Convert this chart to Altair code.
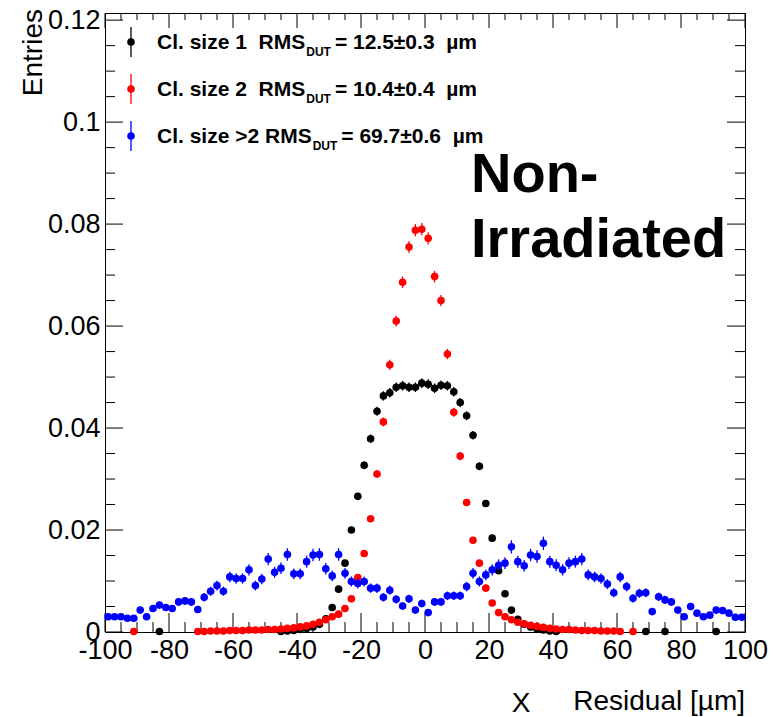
import altair as alt
import numpy as np
import pandas as pd

# ---------------- data ----------------
BIN_X = list(range(-99, 100, 2))  # 100 bins of 2 um

BLUE_Y = [
    0.0030, 0.0030, 0.0030, 0.0027, 0.0027, 0.0043, 0.0030, 0.0046, 0.0053, 0.0048,
    0.0046, 0.0059, 0.0061, 0.0059, 0.0044, 0.0068, 0.0080, 0.0091, 0.0080, 0.0108,
    0.0105, 0.0105, 0.0122, 0.0091, 0.0104, 0.0143, 0.0117, 0.0125, 0.0152, 0.0114,
    0.0114, 0.0138, 0.0151, 0.0152, 0.0124, 0.0110, 0.0152, 0.0115, 0.0099, 0.0095,
    0.0099, 0.0086, 0.0086, 0.0068, 0.0082, 0.0064, 0.0051, 0.0065, 0.0043, 0.0056,
    0.0038, 0.0059, 0.0059, 0.0071, 0.0071, 0.0071, 0.0089, 0.0115, 0.0099, 0.0112,
    0.0122, 0.0131, 0.0135, 0.0167, 0.0138, 0.0130, 0.0151, 0.0148, 0.0174, 0.0138,
    0.0131, 0.0122, 0.0135, 0.0138, 0.0143, 0.0112, 0.0108, 0.0105, 0.0094, 0.0077,
    0.0108, 0.0089, 0.0066, 0.0076, 0.0077, 0.0040, 0.0069, 0.0063, 0.0059, 0.0043,
    0.0030, 0.0050, 0.0037, 0.0030, 0.0033, 0.0043, 0.0042, 0.0037, 0.0029, 0.0029,
]

RED_X = [-91] + list(range(-71, 62, 2)) + [65]
RED_Y = [0.0001] + [
    0.0001, 0.0001, 0.0002, 0.0002, 0.0002, 0.0003, 0.0003, 0.0003, 0.0004, 0.0004,
    0.0004, 0.0005, 0.0005, 0.0006, 0.0007, 0.0008, 0.0010, 0.0012, 0.0015, 0.0019,
    0.0024, 0.0030, 0.0035, 0.0046, 0.0065, 0.0107, 0.0154, 0.0222, 0.0310, 0.0412,
    0.0524, 0.0610, 0.0686, 0.0755, 0.0788, 0.0790, 0.0772, 0.0697, 0.0650, 0.0545,
    0.0431, 0.0345, 0.0254, 0.0180, 0.0135, 0.0086, 0.0057, 0.0038, 0.0030, 0.0024,
    0.0019, 0.0016, 0.0013, 0.0011, 0.0009, 0.0007, 0.0006, 0.0005, 0.0005, 0.0004,
    0.0003, 0.0003, 0.0003, 0.0002, 0.0002, 0.0002, 0.0001,
] + [0.0001]

BLACK_X = [-83] + list(range(-45, 42, 2)) + [69, 75, 91]
BLACK_Y = [0.0001] + [
    0.0001, 0.0002, 0.0003, 0.0005, 0.0007, 0.0010, 0.0015, 0.0026, 0.0048, 0.0084,
    0.0135, 0.0200, 0.0266, 0.0327, 0.0379, 0.0433, 0.0463, 0.0469, 0.0480, 0.0483,
    0.0480, 0.0480, 0.0488, 0.0486, 0.0478, 0.0484, 0.0483, 0.0471, 0.0450, 0.0424,
    0.0386, 0.0325, 0.0252, 0.0184, 0.0120, 0.0075, 0.0043, 0.0025, 0.0015, 0.0010,
    0.0006, 0.0004, 0.0002, 0.0001,
] + [0.0001, 0.0001, 0.0001]

NB = "\u00a0"
SERIES = ["Cl. size 1 " + NB + "RMS", "Cl. size 2 " + NB + "RMS", "Cl. size >2 RMS"]
RMS_TXT = ["= 12.5\u00b10.3 " + NB + "\u00b5m", "= 10.4\u00b10.4 " + NB + "\u00b5m",
           "= 69.7\u00b10.6 " + NB + "\u00b5m"]
COLORS = ["#000000", "#ff0000", "#0000ff"]
ERR_K = [0.0043, 0.0043, 0.0100]  # error ~ k*sqrt(entries)

X_MAJOR = [-100, -80, -60, -40, -20, 0, 20, 40, 60, 80, 100]
X_MINOR = [v for v in range(-95, 100, 5) if v % 20 != 0]
Y_MAJOR = [0, 0.02, 0.04, 0.06, 0.08, 0.1, 0.12]
Y_MINOR = [0.005, 0.01, 0.015, 0.025, 0.03, 0.035, 0.045, 0.05, 0.055,
           0.065, 0.07, 0.075, 0.085, 0.09, 0.095, 0.105, 0.11, 0.115]

assert len(BLUE_Y) == len(BIN_X)
assert len(RED_Y) == len(RED_X)
assert len(BLACK_Y) == len(BLACK_X)

# ---------------- layout ----------------
W, H = 640, 619
OX, OY = 105, 13
FONT = "Liberation Sans"

xs = alt.Scale(domain=[-100, 100], nice=False, zero=False)
ys = alt.Scale(domain=[0, 0.1214], nice=False, zero=False)

XAX = alt.Axis(values=X_MAJOR, title="", ticks=False, domain=False, grid=False,
               labelFont=FONT, labelFontSize=27, labelColor="black", labelPadding=5,
               labelFlush=False, labelOverlap=False, labelExpr="toString(datum.value)")
YAX = alt.Axis(values=Y_MAJOR, title="", ticks=False, domain=False, grid=False,
               labelFont=FONT, labelFontSize=27, labelColor="black", labelPadding=5,
               labelFlush=False, labelOverlap=False, labelExpr="toString(datum.value)")


def X(field):
    return alt.X(field, scale=xs, axis=XAX)


def Y(field):
    return alt.Y(field, scale=ys, axis=YAX)


layers = []


# frame ticks
def xticks(vals, length, top):
    df = pd.DataFrame({"v": vals})
    y1, y2 = (0, length) if top else (H, H - length)
    return alt.Chart(df).mark_rule(color="black", strokeWidth=1).encode(
        x=X("v:Q"), y=alt.value(y1), y2=alt.value(y2))


def yticks(vals, length, right):
    df = pd.DataFrame({"v": vals})
    x1, x2 = (W, W - length) if right else (0, length)
    return alt.Chart(df).mark_rule(color="black", strokeWidth=1).encode(
        y=Y("v:Q"), x=alt.value(x1), x2=alt.value(x2))


layers += [
    xticks(X_MAJOR, 19, False), xticks(X_MINOR, 10, False),
    xticks(X_MAJOR, 15, True), xticks(X_MINOR, 7, True),
    yticks(Y_MAJOR, 18, False), yticks(Y_MINOR, 10, False),
    yticks(Y_MAJOR, 18, True), yticks(Y_MINOR, 10, True),
]

# data series
series_data = [(BLACK_X, BLACK_Y), (RED_X, RED_Y), (BIN_X, BLUE_Y)]
for i, (xv, yv) in enumerate(series_data):
    y = np.array(yv)
    err = ERR_K[i] * np.sqrt(y)
    df = pd.DataFrame({"x": xv, "y": yv, "lo": y - err, "hi": y + err})
    layers.append(
        alt.Chart(df).mark_rule(color=COLORS[i], strokeWidth=1.3).encode(
            x=X("x:Q"), y=Y("lo:Q"), y2="hi:Q"))
    layers.append(
        alt.Chart(df).mark_circle(color=COLORS[i], size=58, opacity=1).encode(
            x=X("x:Q"), y=Y("y:Q")))

# legend
AB = {' ': 278, NB: 278, 'C': 722, 'l': 278, '.': 278, 's': 556, 'i': 278, 'z': 500,
      'e': 556, '1': 556, '2': 556, '>': 584, 'R': 722, 'M': 833, 'S': 667, 'D': 722,
      'U': 722, 'T': 611}


def tw(s, fs):
    return sum(AB.get(ch, 556) for ch in s) * fs / 1000.0


one = pd.DataFrame({"a": [0]})
FS, FS_SUB = 21, 12
for i in range(3):
    yy = 29 + 47 * i
    mx = 26
    layers.append(alt.Chart(one).mark_rule(color=COLORS[i], strokeWidth=1.3).encode(
        x=alt.value(mx), y=alt.value(yy - 15), y2=alt.value(yy + 15)))
    layers.append(alt.Chart(one).mark_circle(color=COLORS[i], size=58, opacity=1).encode(
        x=alt.value(mx), y=alt.value(yy)))
    x0 = 157 - OX
    xsub = x0 + tw(SERIES[i], FS) + 1
    xc = xsub + tw("DUT", FS_SUB) + 4
    layers.append(alt.Chart(one).mark_text(
        text=SERIES[i], font=FONT, fontWeight="bold", fontSize=FS, align="left",
        baseline="alphabetic", color="black").encode(x=alt.value(x0), y=alt.value(yy + 7)))
    layers.append(alt.Chart(one).mark_text(
        text="DUT", font=FONT, fontWeight="bold", fontSize=FS_SUB, align="left",
        baseline="alphabetic", color="black").encode(x=alt.value(xsub), y=alt.value(yy + 14)))
    layers.append(alt.Chart(one).mark_text(
        text=RMS_TXT[i], font=FONT, fontWeight="bold", fontSize=FS, align="left",
        baseline="alphabetic", color="black").encode(x=alt.value(xc), y=alt.value(yy + 7)))

# annotations
layers.append(alt.Chart(one).mark_text(
    text="Non-", font=FONT, fontWeight="bold", fontSize=56, align="left",
    baseline="alphabetic", color="black").encode(x=alt.value(471 - OX), y=alt.value(192 - OY)))
layers.append(alt.Chart(one).mark_text(
    text="Irradiated", font=FONT, fontWeight="bold", fontSize=56, align="left",
    baseline="alphabetic", color="black").encode(x=alt.value(471 - OX), y=alt.value(257 - OY)))

# axis titles
layers.append(alt.Chart(one).mark_text(
    text="Entries", font=FONT, fontSize=28, angle=270, align="right",
    baseline="alphabetic", color="black").encode(x=alt.value(42 - OX), y=alt.value(9 - OY)))
layers.append(alt.Chart(one).mark_text(
    text="Residual [\u00b5m]", font=FONT, fontSize=28, align="right",
    baseline="alphabetic", color="black").encode(x=alt.value(745 - OX), y=alt.value(710 - OY)))
layers.append(alt.Chart(one).mark_text(
    text="X", font=FONT, fontSize=28, align="center",
    baseline="alphabetic", color="black").encode(x=alt.value(521 - OX), y=alt.value(712 - OY)))

chart = alt.layer(*layers).properties(
    width=W, height=H,
    autosize=alt.AutoSizeParams(type="none"),
    padding={"left": OX, "top": OY, "right": 774 - OX - W, "bottom": 717 - OY - H},
    background="white",
).configure_view(stroke="black", strokeWidth=1)

chart.save("out.html", embed_options={"renderer": "svg", "actions": False})
